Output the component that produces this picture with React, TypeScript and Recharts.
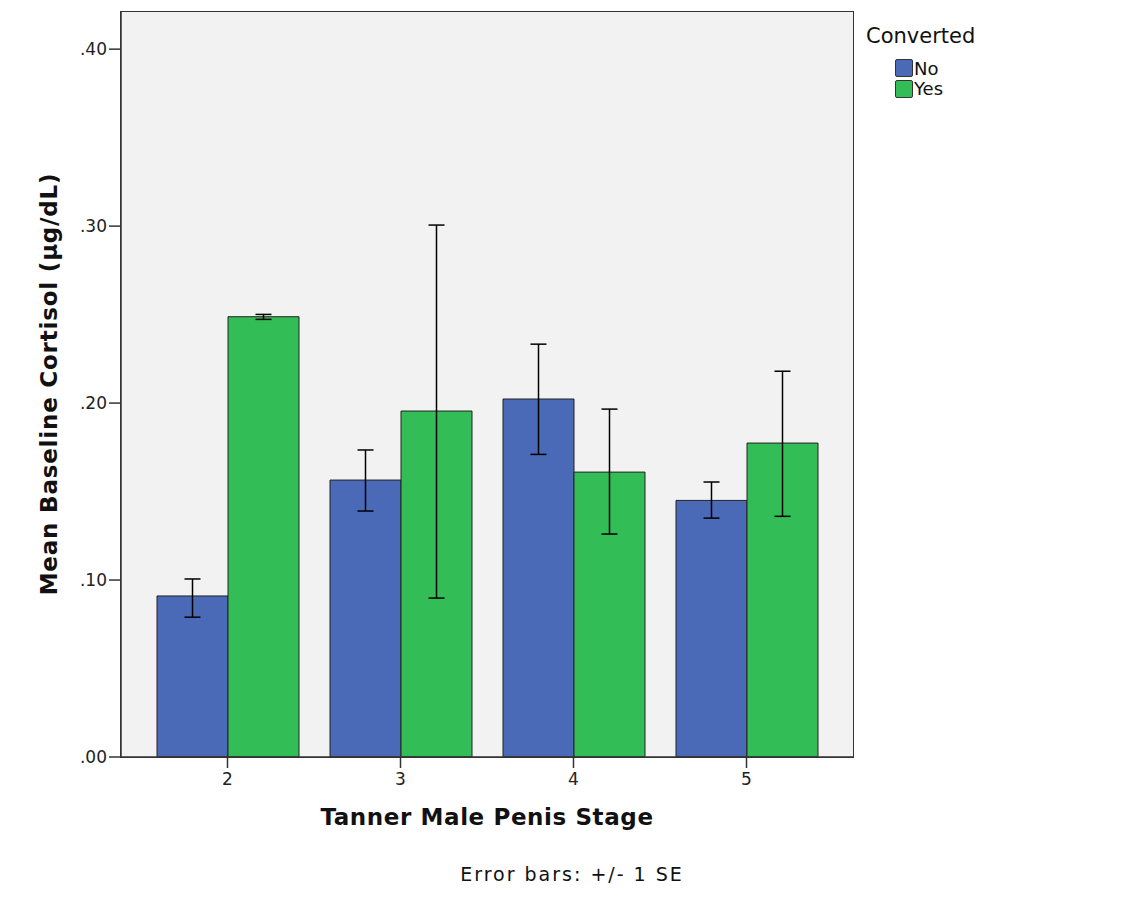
import React from 'react';
import { BarChart, Bar, XAxis, YAxis, CartesianGrid, ErrorBar } from 'recharts';

const stages = ['2', '3', '4', '5'];
const noMean = [0.091, 0.1565, 0.2023, 0.145];
const noLow = [0.079, 0.139, 0.171, 0.135];
const noHigh = [0.1006, 0.1735, 0.2333, 0.1554];
const yesMean = [0.2488, 0.1955, 0.161, 0.1774];
const yesLow = [0.2473, 0.0898, 0.126, 0.136];
const yesHigh = [0.2501, 0.3006, 0.1966, 0.218];
const yTicks = [0, 0.1, 0.2, 0.3, 0.4];

const series = [
  { key: 'no', name: 'No', color: '#4a69b7' },
  { key: 'yes', name: 'Yes', color: '#33bd57' },
];

const data = stages.map((s, i) => ({
  stage: s,
  no: noMean[i],
  noErr: [noMean[i] - noLow[i], noHigh[i] - noMean[i]],
  yes: yesMean[i],
  yesErr: [yesMean[i] - yesLow[i], yesHigh[i] - yesMean[i]],
}));

const font = '"DejaVu Sans", sans-serif';
const axisColor = '#333';

// plot area inside the chart (chart sits at the body's 8px margin)
const plot = { left: 113, top: 4, width: 732, height: 745 };

export default function App() {
  return (
    <div style={{ position: 'relative', width: 1112, height: 891, fontFamily: font }}>
      <BarChart
        width={1112}
        height={891}
        data={data}
        margin={{ top: plot.top, right: 1112 - plot.left - plot.width, bottom: 891 - plot.top - plot.height - 30, left: 0 }}
        barCategoryGap={16}
        barGap={0}
      >
        <CartesianGrid horizontal={false} vertical={false} fill="#f2f2f2" />
        <XAxis
          dataKey="stage"
          padding={{ left: 20, right: 20 }}
          height={30}
          stroke={axisColor}
          strokeWidth={1.5}
          tickSize={11}
          tickMargin={5}
          fontSize={17}
          tick={{ fill: '#222', fontSize: 17, fontFamily: font }}
          label={{
            value: 'Tanner Male Penis Stage',
            position: 'bottom',
            offset: 22,
            fill: '#111',
            fontSize: 23,
            fontWeight: 'bold',
            fontFamily: font,
            letterSpacing: 0.6,
          }}
        />
        <YAxis
          width={plot.left}
          domain={[0, 0.421]}
          ticks={yTicks}
          allowDataOverflow
          stroke={axisColor}
          strokeWidth={1.5}
          tickSize={12}
          tickMargin={2}
          fontSize={17}
          tick={{ fill: '#222', fontSize: 17, fontFamily: font }}
          tickFormatter={(v: number) => v.toFixed(2).replace(/^0/, '')}
          label={{
            content: () => (
              <text
                x={49}
                y={376}
                transform="rotate(-90, 49, 376)"
                textAnchor="middle"
                fill="#111"
                fontSize={23}
                fontWeight="bold"
                fontFamily={font}
                letterSpacing={0.8}
              >
                Mean Baseline Cortisol (µg/dL)
              </text>
            ),
          }}
        />
        {series.map((s) => (
          <Bar key={s.key} dataKey={s.key} name={s.name} fill={s.color} stroke="#222" strokeWidth={1} isAnimationActive={false}>
            <ErrorBar dataKey={`${s.key}Err`} width={8} stroke="#000" strokeWidth={1.5} direction="y" />
          </Bar>
        ))}
      </BarChart>

      {/* frame round the plot area */}
      <div
        style={{
          position: 'absolute',
          left: plot.left - 1,
          top: plot.top - 1,
          width: plot.width + 2,
          height: plot.height + 2,
          border: `1.5px solid ${axisColor}`,
          boxSizing: 'border-box',
          pointerEvents: 'none',
        }}
      />

      <div style={{ position: 'absolute', left: 858, top: 15, color: '#111' }}>
        <div style={{ fontSize: 21, lineHeight: '26px' }}>Converted</div>
        <div style={{ marginLeft: 29, marginTop: 9 }}>
          {series.map((s) => (
            <div key={s.key} style={{ display: 'flex', alignItems: 'center', height: 20.5, fontSize: 18 }}>
              <span
                style={{
                  display: 'inline-block',
                  width: 18,
                  height: 18,
                  background: s.color,
                  border: '1.5px solid #333',
                  borderRadius: 2,
                  boxSizing: 'border-box',
                  marginRight: 1,
                }}
              />
              {s.name}
            </div>
          ))}
        </div>
      </div>

      <div
        style={{
          position: 'absolute',
          left: 0,
          width: 1128,
          top: 855,
          textAlign: 'center',
          boxSizing: 'border-box',
          fontSize: 19,
          letterSpacing: 2,
          color: '#111',
        }}
      >
        Error bars: +/- 1 SE
      </div>
    </div>
  );
}
